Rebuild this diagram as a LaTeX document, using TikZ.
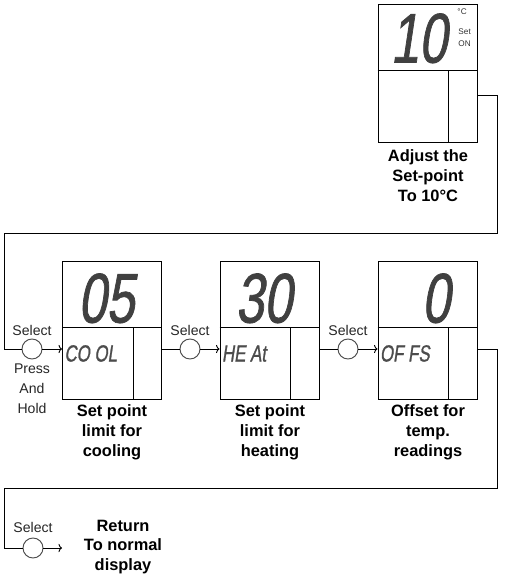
\documentclass[tikz,border=0pt]{standalone}
\usepackage{fontspec}
\setmainfont{Liberation Sans}
\newfontfamily\lcdfont[FakeStretch=0.72,FakeSlant=0.15,FakeBold=1]{Liberation Sans}
\usetikzlibrary{positioning}
\usetikzlibrary{calc}
\usetikzlibrary{arrows.meta}

\begin{document}
\begin{tikzpicture}
  [
    x=0.03cm, y=-0.03cm, line width=0.8pt,
    panel/.style={
      draw=black,
      minimum width=2.97cm,
      minimum height=4.14cm,
      inner sep=0pt
    },
    btn/.style={draw=black!70,circle,minimum size=0.6cm,inner sep=0pt},
    lbl/.style={font=\fontsize{14}{17}\selectfont\bfseries,align=center},
    sel/.style={font=\fontsize{12}{17}\selectfont,text=black!85,align=center},
    big/.style={font=\fontsize{60}{60}\selectfont\lcdfont,text=black!75,inner sep=0pt,anchor=base east},
    mode/.style={font=\fontsize{20}{20}\selectfont\lcdfont,text=black!70,inner sep=0pt,anchor=base west},
    tiny/.style={font=\fontsize{7}{8}\selectfont,text=black!80,inner sep=0pt,anchor=west},
    ld/.style={draw=black,-{To[length=3pt,width=7pt]}}
  ]
  \useasboundingbox (0,0) rectangle (506,583);

  \node (p0) at (427.5,73)  [panel] {};
  \node (p1) at (112,330)   [panel] {};
  \node (p2) at (269.5,330) [panel] {};
  \node (p3) at (427.5,330) [panel] {};

  \foreach \p in {p0,p1,p2,p3} {
    \draw ($(\p.north west)+(0,67)$) -- ($(\p.north east)+(0,67)$);
    \draw ($(\p.north east)+(-29,67)$) -- ($(\p.south east)+(-29,0)$);
  }

  \node (v0) at ($(p0.north east)+(-30,59)$) [big] {10};
  \node (v1) at ($(p1.north east)+(-27,62)$) [big] {05};
  \node (v2) at ($(p2.north east)+(-27,62)$) [big] {30};
  \node (v3) at ($(p3.north east)+(-27,62)$) [big] {0};

  \node (unit) at (457,12) [tiny] {°C};
  \node (set)  at (458,32) [tiny] {Set};
  \node (on)   at (458,44) [tiny] {ON};

  \node (m1) at ($(p1.north west)+(2,101)$) [mode] {CO OL};
  \node (m2) at ($(p2.north west)+(2,101)$) [mode] {HE At};
  \node (m3) at ($(p3.north west)+(2,101)$) [mode] {OF FS};

  \node (s1) at (32,349)  [btn] {};
  \node (s2) at (190,349) [btn] {};
  \node (s3) at (348,349) [btn] {};
  \node (s4) at (33,548)  [btn] {};

  \node (t1) at (32,330)  [sel] {Select};
  \node (t2) at (190,330) [sel] {Select};
  \node (t3) at (348,330) [sel] {Select};
  \node (t4) at (33,527)  [sel] {Select};
  \node (hold) at (32,389) [sel] {Press\\And\\Hold};

  \node (l0) at (428,176) [lbl] {Adjust the\\Set-point\\To 10°C};
  \node (l1) at (112,432) [lbl] {Set point\\limit for\\cooling};
  \node (l2) at (270,432) [lbl] {Set point\\limit for\\heating};
  \node (l3) at (428,432) [lbl] {Offset for\\temp.\\readings};
  \node (ret) at (123,547) [lbl] {Return\\To normal\\display};

  \coordinate (end) at (62,548);

  \draw ($(p0.north east)+(0,92)$) -- ++(20,0) |- (4,233) |- (s1.west);
  \draw [ld] (s1.east) -- (s1 -| p1.west);
  \draw (s2 -| p1.east) -- (s2.west);
  \draw [ld] (s2.east) -- (s2 -| p2.west);
  \draw (s3 -| p2.east) -- (s3.west);
  \draw [ld] (s3.east) -- (s3 -| p3.west);
  \draw (s3 -| p3.east) -- ++(20,0) |- (4,488) |- (s4.west);
  \draw [ld] (s4.east) -- (end);
\end{tikzpicture}
\end{document}
